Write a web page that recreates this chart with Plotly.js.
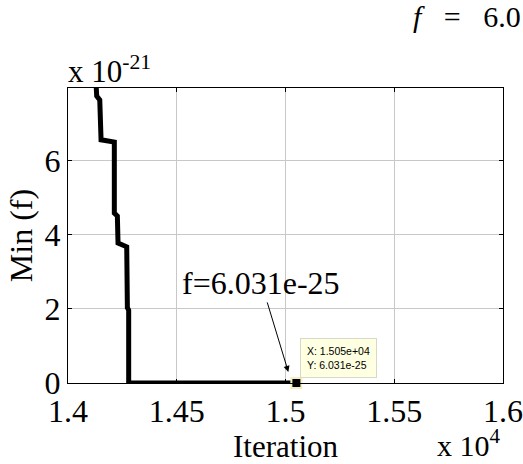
<!DOCTYPE html>
<html>
<head>
<meta charset="utf-8">
<script src="https://cdn.plot.ly/plotly-3.0.1.min.js"></script>
<style>html,body{margin:0;padding:0;background:#fff;}#chart{width:523px;height:464px;}</style>
</head>
<body>
<div id="chart"></div>
<script>
// Data (iteration, min f)
const iterations = [14128, 14132, 14146, 14152, 14213, 14213, 14227, 14230, 14270, 14273, 14279, 14279, 15050];
const minF = [8.2e-21, 7.75e-21, 7.65e-21, 6.57e-21, 6.51e-21, 4.59e-21, 4.51e-21, 3.78e-21, 3.68e-21, 2.03e-21, 1.97e-21, 6.031e-25, 6.031e-25];
const tipX = [15050];
const tipY = [6.031e-25];
const xTickVals = [14000, 14500, 15000, 15500, 16000];
const xTickText = ['1.4', '1.45', '1.5', '1.55', '1.6'];
const yTickVals = [0, 2e-21, 4e-21, 6e-21];
const yTickText = ['0', '2', '4', '6'];

const serif = 'Liberation Serif, Times New Roman, serif';

const traces = [
  {x: iterations, y: minF, type: 'scatter', mode: 'lines',
   line: {color: '#000', width: 5}, hoverinfo: 'skip', cliponaxis: true},
  {x: tipX, y: tipY, type: 'scatter', mode: 'markers',
   marker: {symbol: 'square', size: 10, color: '#000', line: {color: '#f4efc2', width: 2}},
   cliponaxis: false, hoverinfo: 'skip'}
];

const layout = {
  width: 523, height: 464,
  margin: {l: 68, r: 20, t: 88, b: 81},
  paper_bgcolor: '#fff', plot_bgcolor: '#fff',
  showlegend: false,
  font: {family: serif, color: '#000', size: 32},
  xaxis: {
    range: [14000, 16000], tickvals: xTickVals, ticktext: xTickText,
    showgrid: true, gridcolor: '#c8c8c8', gridwidth: 1, zeroline: false,
    showline: true, linecolor: '#000', linewidth: 1, mirror: 'ticks',
    ticks: 'inside', ticklen: 4, tickcolor: '#000',
    tickfont: {family: serif, size: 32, color: '#000'},
    title: {text: 'Iteration', font: {family: serif, size: 31, color: '#000'}, standoff: 0}
  },
  yaxis: {
    range: [0, 7.97e-21], tickvals: yTickVals, ticktext: yTickText,
    showgrid: true, gridcolor: '#c8c8c8', gridwidth: 1, zeroline: false,
    showline: true, linecolor: '#000', linewidth: 1, mirror: 'ticks',
    ticks: 'inside', ticklen: 4, tickcolor: '#000',
    tickfont: {family: serif, size: 32, color: '#000'},
    title: {text: 'Min (f)', font: {family: serif, size: 32, color: '#000'}, standoff: 2}
  },
  annotations: [
    {xref: 'paper', yref: 'paper', x: -0.005, y: 0.99, xanchor: 'left', yanchor: 'bottom',
     text: 'x 10<sup>-21</sup>', showarrow: false, font: {family: serif, size: 31, color: '#000'}},
    {xref: 'paper', yref: 'paper', x: 1.0, y: -0.275, xanchor: 'right', yanchor: 'bottom',
     text: 'x 10<sup>4</sup>', showarrow: false, font: {family: serif, size: 30, color: '#000'}},
    {xref: 'paper', yref: 'paper', x: 1.045, y: 1.18, xanchor: 'right', yanchor: 'bottom',
     text: '<i>f</i>&nbsp;&nbsp;&nbsp;=&nbsp;&nbsp;&nbsp;6.0', showarrow: false, font: {family: serif, size: 30, color: '#000'}},
    {xref: 'x', yref: 'y', x: 15013, y: 0.3e-21, ax: -27, ay: -89,
     text: 'f=6.031e-25', showarrow: true, arrowhead: 2, arrowsize: 1.2, arrowwidth: 1, arrowcolor: '#000',
     font: {family: serif, size: 32, color: '#000'}},
    {xref: 'x', yref: 'y', x: 15066, y: 0.14e-21, xanchor: 'left', yanchor: 'bottom',
     text: 'X: 1.505e+04<br>Y: 6.031e-25', showarrow: false, align: 'left',
     font: {family: 'Liberation Sans, Arial, sans-serif', size: 10.5, color: '#000'},
     bgcolor: '#ffffe1', bordercolor: '#d8d8c8', borderwidth: 1, borderpad: 6}
  ]
};

Plotly.newPlot('chart', traces, layout, {staticPlot: true, displayModeBar: false});
</script>
</body>
</html>
